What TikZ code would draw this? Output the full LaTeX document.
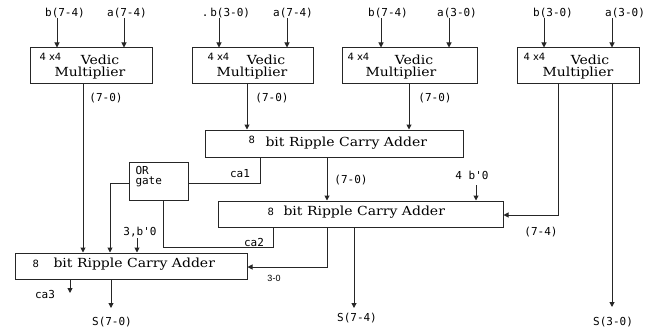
\documentclass[tikz,border=0pt]{standalone}
\usepackage{fontspec}
\newfontfamily\lblfont{DejaVu Sans Mono}
\newfontfamily\boxfont{DejaVu Serif}[FakeStretch=1.12]
\newfontfamily\smfont{DejaVu Sans}
\newfontfamily\tinyfont{Liberation Sans}
\usetikzlibrary{arrows.meta}
\begin{document}
\begin{tikzpicture}[x=1pt,y=-1pt,line width=1pt,
  blk/.style={draw=black!85, inner sep=0pt},
  arr/.style={-{Triangle[length=5pt,width=5pt]}},
  ln/.style={draw=black!85},
  lbl/.style={inner sep=0pt, font=\lblfont\fontsize{11}{11}\selectfont},
  btxt/.style={inner sep=0pt, font=\boxfont\fontsize{12.5}{12.5}\selectfont},
  sml/.style={inner sep=0pt, anchor=west, font=\smfont\fontsize{10}{10}\selectfont},
  tiny/.style={inner sep=0pt, font=\tinyfont\fontsize{9}{9}\selectfont}]
\useasboundingbox (0,0) rectangle (653,329);

% Vedic multipliers
\node[blk, minimum width=122pt, minimum height=35pt] (vm1) at (91,65.5) {};
\node[blk, minimum width=121pt, minimum height=35pt] (vm2) at (252.5,65.5) {};
\node[blk, minimum width=135pt, minimum height=35pt] (vm3) at (409.5,65.5) {};
\node[blk, minimum width=122pt, minimum height=35pt] (vm4) at (578,65.5) {};

\node[sml] (vm1a) at (39,57) {4 x4};
\node[btxt] (vm1b) at (100,60) {Vedic};
\node[btxt] (vm1c) at (90,73) {Multiplier};
\node[sml] (vm2a) at (207,57) {4 x4};
\node[btxt] (vm2b) at (266,60) {Vedic};
\node[btxt] (vm2c) at (252,73) {Multiplier};
\node[sml] (vm3a) at (347,57) {4 x4};
\node[btxt] (vm3b) at (414,60) {Vedic};
\node[btxt] (vm3c) at (401,73) {Multiplier};
\node[sml] (vm4a) at (523,57) {4 x4};
\node[btxt] (vm4b) at (590,60) {Vedic};
\node[btxt] (vm4c) at (578,73) {Multiplier};

% Ripple carry adders
\node[blk, minimum width=258pt, minimum height=27pt] (rca1) at (334,143.5) {};
\node[blk, minimum width=285pt, minimum height=26pt] (rca2) at (360.5,214) {};
\node[blk, minimum width=232pt, minimum height=26pt] (rca3) at (131,266) {};
\node[sml] (r1a) at (248,140) {8};
\node[btxt, anchor=west] (r1b) at (265,143) {bit Ripple Carry Adder};
\node[sml] (r2a) at (267,212) {8};
\node[btxt, anchor=west] (r2b) at (283,212) {bit Ripple Carry Adder};
\node[sml] (r3a) at (32,264) {8};
\node[btxt, anchor=west] (r3b) at (53,264) {bit Ripple Carry Adder};

% OR gate
\node[blk, minimum width=59pt, minimum height=38pt] (org) at (158.5,181) {};
\node[lbl, anchor=west] (orA) at (135,170) {OR};
\node[lbl, anchor=west] (orB) at (135,182) {gate};

% input labels
\node[lbl] (l1) at (65,13) {b(7-4)};
\node[lbl] (l2) at (127,13) {a(7-4)};
\node[lbl] (l3) at (226,13) {.\,b(3-0)};
\node[lbl] (l4) at (293,13) {a(7-4)};
\node[lbl] (l5) at (388,13) {b(7-4)};
\node[lbl] (l6) at (457,13) {a(3-0)};
\node[lbl] (l7) at (553,13) {b(3-0)};
\node[lbl] (l8) at (625,13) {a(3-0)};

\coordinate (i1) at (57,18);
\coordinate (i2) at (124,18);
\coordinate (i3) at (219,18);
\coordinate (i4) at (287,18);
\coordinate (i5) at (381,18);
\coordinate (i6) at (449,18);
\coordinate (i7) at (544,18);
\coordinate (i8) at (612,18);
\draw[ln,arr] (i1) -- (i1 |- vm1.north);
\draw[ln,arr] (i2) -- (i2 |- vm1.north);
\draw[ln,arr] (i3) -- (i3 |- vm2.north);
\draw[ln,arr] (i4) -- (i4 |- vm2.north);
\draw[ln,arr] (i5) -- (i5 |- vm3.north);
\draw[ln,arr] (i6) -- (i6 |- vm3.north);
\draw[ln,arr] (i7) -- (i7 |- vm4.north);
\draw[ln,arr] (i8) -- (i8 |- vm4.north);

% multiplier outputs
\coordinate (o1) at (83,83);
\coordinate (o2) at (247,83);
\coordinate (o3) at (409,83);
\coordinate (o4) at (558,83);
\coordinate (o5) at (612,83);
\draw[ln,arr] (o1) -- (o1 |- rca3.north);
\draw[ln,arr] (o2) -- (o2 |- rca1.north);
\draw[ln,arr] (o3) -- (o3 |- rca1.north);
\coordinate (k4) at (558,215);
\draw[ln,arr] (o4) -- (k4) -- (k4 -| rca2.east);
\coordinate (s30) at (612,307);
\draw[ln,arr] (o5) -- (s30);
\node[lbl] (p1) at (106,98) {(7-0)};
\node[lbl] (p2) at (272,98) {(7-0)};
\node[lbl] (p3) at (435,98) {(7-0)};
\node[lbl] (p4) at (541,232) {(7-4)};
\node[lbl] (so3) at (613,322) {S(3-0)};

% RCA1 outputs
\coordinate (c1) at (260,157);
\coordinate (c1b) at (260,183);
\draw[ln] (c1) -- (c1b) -- (c1b -| org.east);
\node[lbl] (ca1) at (240,174) {ca1};
\coordinate (r1o) at (327,157);
\draw[ln,arr] (r1o) -- (r1o |- rca2.north);
\node[lbl] (p5) at (351,180) {(7-0)};

% 4 b'0
\node[lbl] (zero4) at (472,175) {4 b{\char"0027}0};
\coordinate (z4) at (476,185);
\draw[ln,arr] (z4) -- (z4 |- rca2.north);

% OR gate connections
\coordinate (og1) at (110,183);
\draw[ln,arr] (org.west |- og1) -- (og1) -- (og1 |- rca3.north);
\coordinate (og2) at (163,247);
\coordinate (og3) at (273,247);
\draw[ln] (og2 |- org.south) -- (og2) -- (og3) -- (og3 |- rca2.south);
\node[lbl] (ca2) at (254,242) {ca2};

% RCA2 outputs
\coordinate (r2a1) at (327,227);
\coordinate (r2a2) at (327,267);
\draw[ln,arr] (r2a1) -- (r2a2) -- (r2a2 -| rca3.east);
\node[tiny] (t30) at (274,278) {3-0};
\coordinate (r2o) at (354,227);
\coordinate (s74) at (354,308);
\draw[ln,arr] (r2o) -- (s74);
\node[lbl] (so2) at (357,318) {S(7-4)};

% 3,b'0
\node[lbl] (zero3) at (140,232) {3,b{\char"0027}0};
\coordinate (z3) at (137,238);
\draw[ln,arr] (z3) -- (z3 |- rca3.north);

% RCA3 outputs
\coordinate (c3) at (70,279);
\coordinate (c3b) at (70,293);
\draw[ln,arr] (c3) -- (c3b);
\node[lbl] (ca3) at (45,294) {ca3};
\coordinate (r3o) at (111,279);
\coordinate (s70) at (111,308);
\draw[ln,arr] (r3o) -- (s70);
\node[lbl] (so1) at (112,322) {S(7-0)};
\end{tikzpicture}
\end{document}
